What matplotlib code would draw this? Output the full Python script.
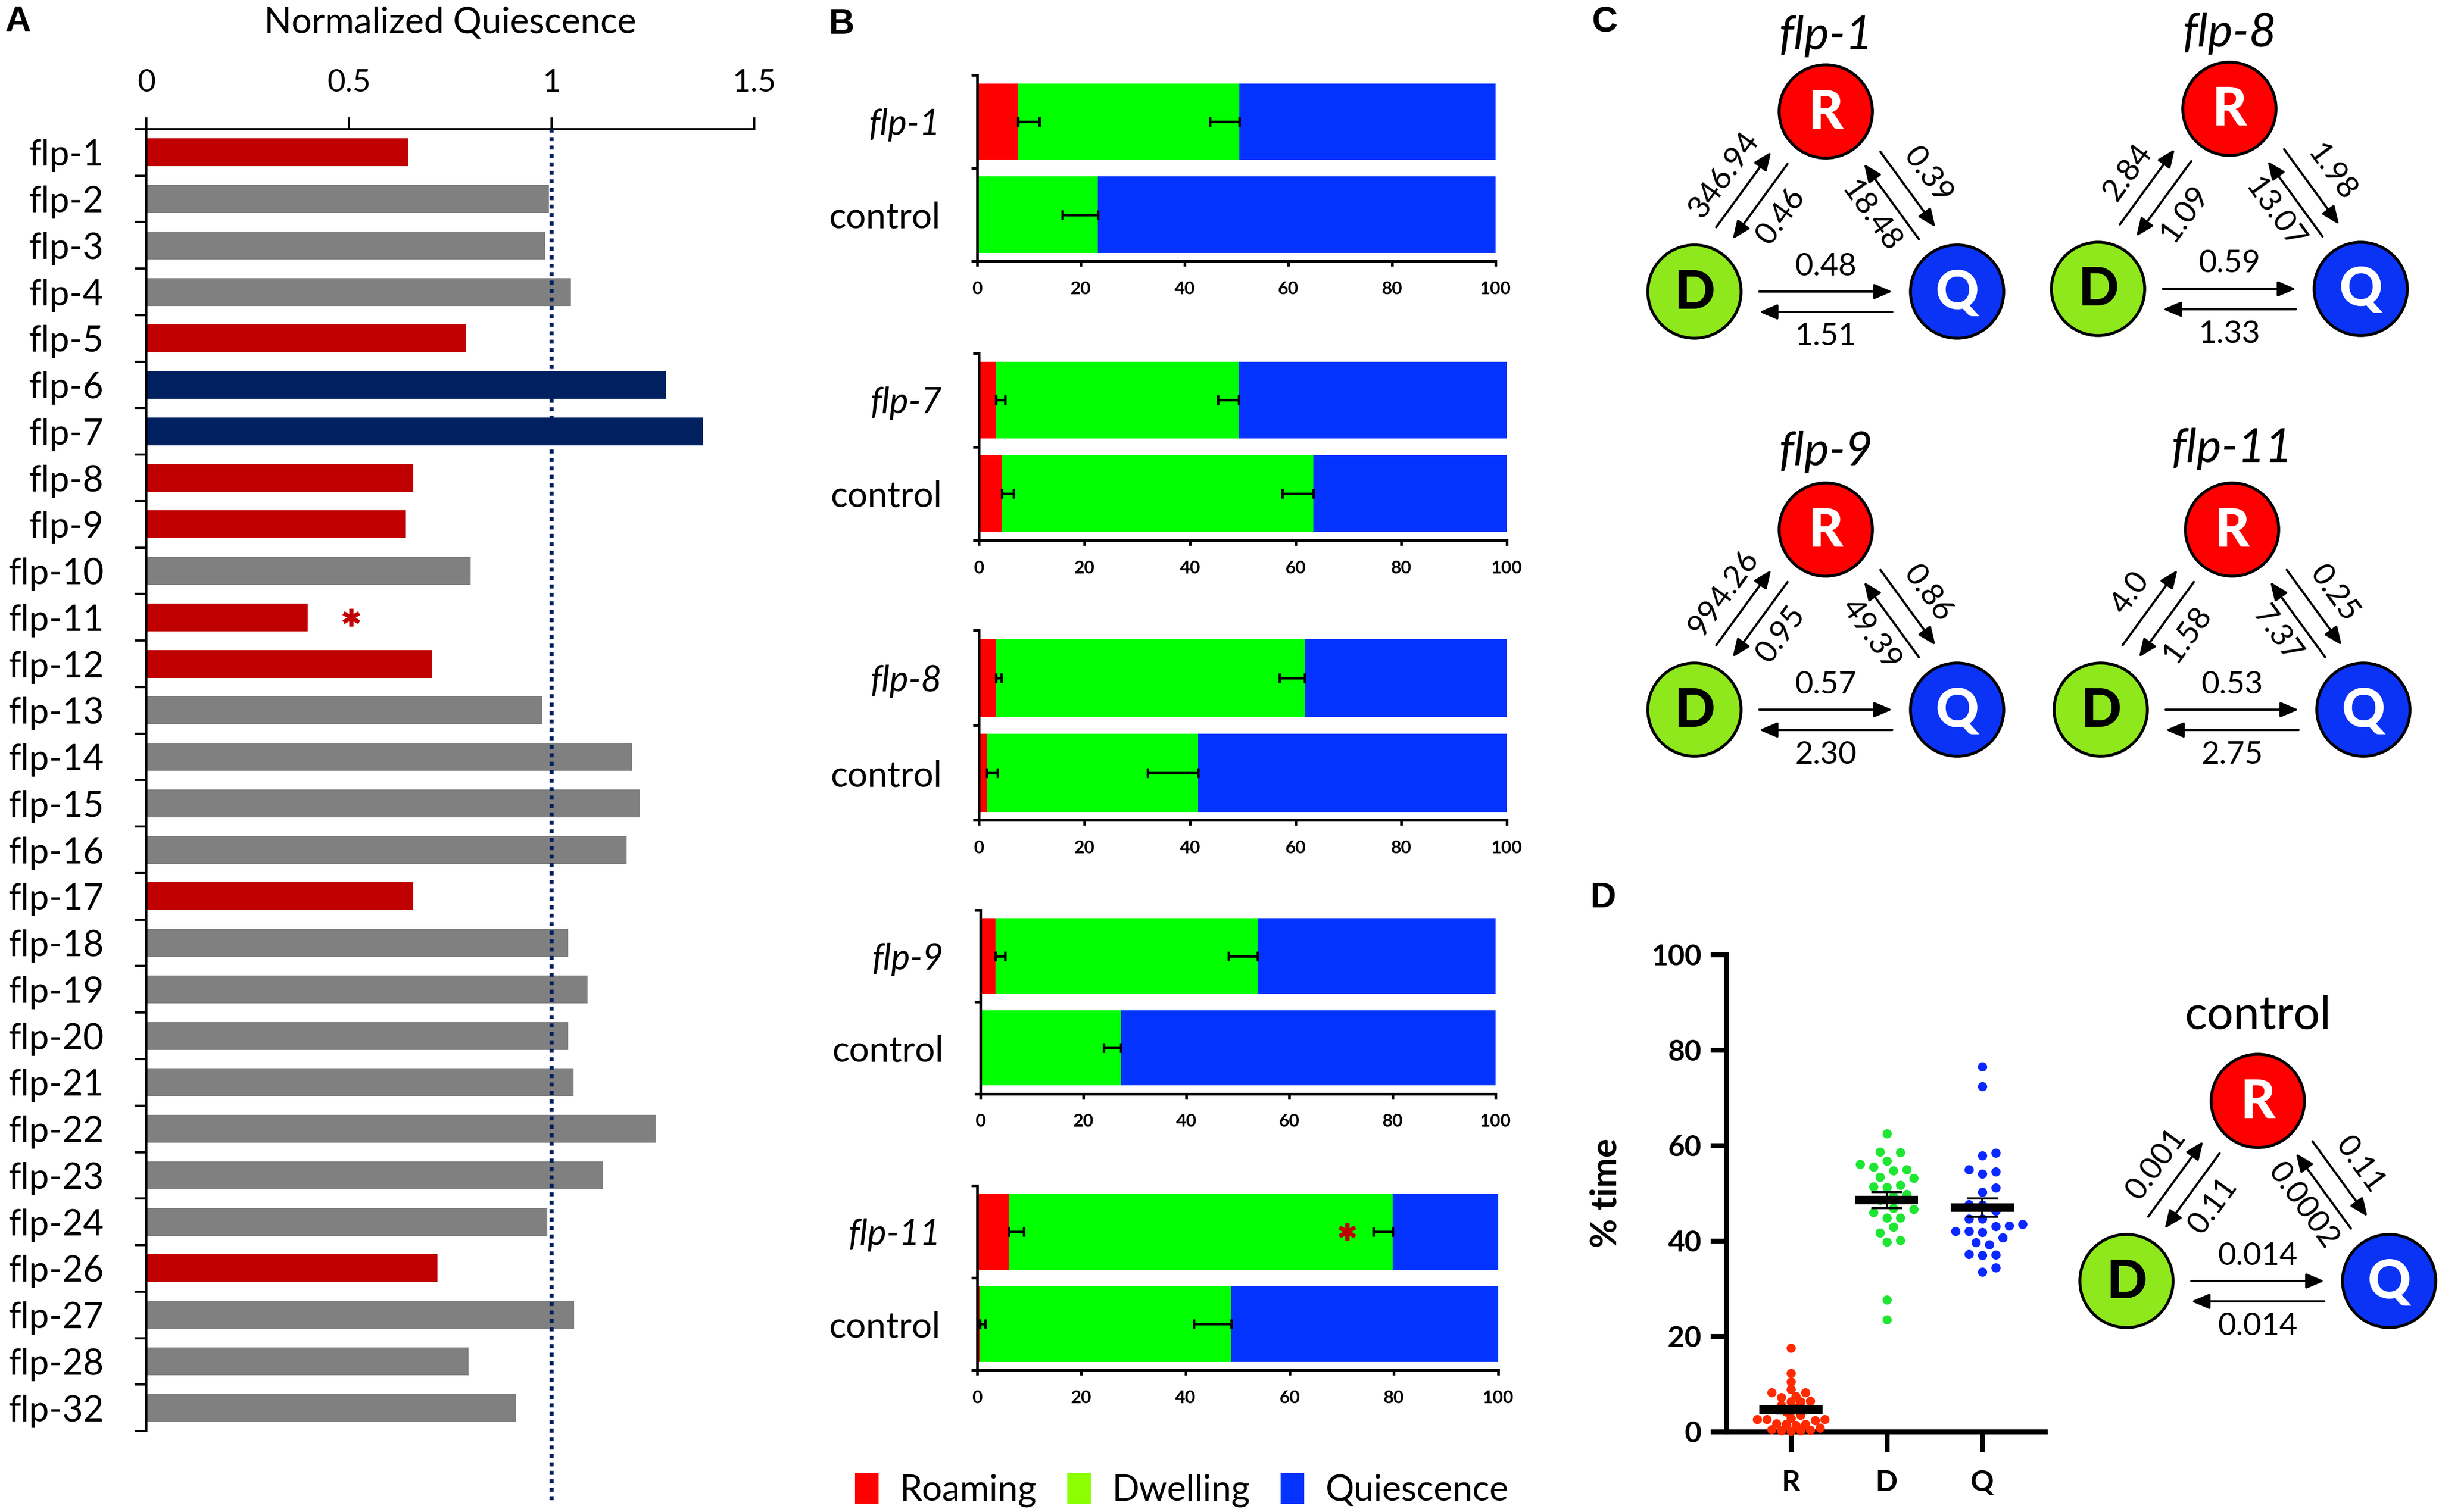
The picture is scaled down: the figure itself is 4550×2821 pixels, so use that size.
import numpy as np
import matplotlib
matplotlib.use('Agg')
import matplotlib.pyplot as plt
from matplotlib.patches import Circle, Patch

plt.rcParams['font.family'] = ['Lato', 'DejaVu Sans']

# ---- panel A data
flp_names = ['flp-1', 'flp-2', 'flp-3', 'flp-4', 'flp-5', 'flp-6', 'flp-7', 'flp-8', 'flp-9',
             'flp-10', 'flp-11', 'flp-12', 'flp-13', 'flp-14', 'flp-15', 'flp-16', 'flp-17',
             'flp-18', 'flp-19', 'flp-20', 'flp-21', 'flp-22', 'flp-23', 'flp-24', 'flp-26',
             'flp-27', 'flp-28', 'flp-32']
norm_quiescence = [0.646, 0.994, 0.984, 1.048, 0.789, 1.282, 1.373, 0.659, 0.639, 0.801,
                   0.399, 0.705, 0.977, 1.199, 1.218, 1.185, 0.659, 1.042, 1.089, 1.042,
                   1.054, 1.257, 1.127, 0.990, 0.718, 1.056, 0.795, 0.913]
bar_group = ['dec', 'ns', 'ns', 'ns', 'dec', 'inc', 'inc', 'dec', 'dec', 'ns', 'dec', 'dec',
             'ns', 'ns', 'ns', 'ns', 'dec', 'ns', 'ns', 'ns', 'ns', 'ns', 'ns', 'ns', 'dec',
             'ns', 'ns', 'ns']
group_colors = {'dec': '#C00000', 'ns': '#808080', 'inc': '#002060'}
star_A = ('flp-11', 0.506)

# ---- panel B data (percent of time)
mutants = ['flp-1', 'flp-7', 'flp-8', 'flp-9', 'flp-11']
roam_mut = [7.9, 3.2, 3.2, 3.0, 6.1]
roam_mut_err = [4.1, 1.8, 1.1, 1.8, 2.9]
dwell_mut = [42.7, 46.0, 58.5, 50.8, 73.7]
dwell_mut_err = [5.7, 3.9, 4.7, 5.6, 3.7]
roam_ctl = [0.0, 4.35, 1.5, 0.3, 0.5]
roam_ctl_err = [0.0, 2.2, 2.1, 0.0, 1.0]
dwell_ctl = [23.3, 59.0, 40.0, 27.0, 48.3]
dwell_ctl_err = [6.9, 5.9, 9.5, 3.3, 7.2]
star_B = ('flp-11', 71.0)

# ---- panel C / D transition rates
net_names = ['flp-1', 'flp-8', 'flp-9', 'flp-11', 'control']
rate_DR = ['346.94', '2.84', '994.26', '4.0', '0.001']
rate_RD = ['0.46', '1.09', '0.95', '1.58', '0.11']
rate_RQ = ['0.39', '1.98', '0.86', '0.25', '0.11']
rate_QR = ['18.48', '13.07', '49.39', '7.37', '0.0002']
rate_DQ = ['0.48', '0.59', '0.57', '0.53', '0.014']
rate_QD = ['1.51', '1.33', '2.30', '2.75', '0.014']

# ---- panel D data (% time, control animals)
pct_R = [17.5, 12.2, 10.5, 8.9, 8.2, 8.2, 7.4, 7.2, 6.4, 6.3, 6.3, 5.5, 5.0, 4.2, 3.5,
         2.6, 2.6, 2.6, 2.4, 2.8, 1.6, 1.6, 1.4, 1.7, 0.3, 0.5, 0.2, 0.2, 0.8, 0.1]
pct_D = [62.5, 58.5, 58.7, 56.7, 56.1, 55.5, 54.7, 55.0, 53.4, 53.1, 51.2, 51.4, 51.7,
         49.8, 48.5, 49.3, 46.6, 46.8, 45.9, 44.8, 44.8, 42.9, 41.7, 40.1, 39.8, 27.6, 23.5]
pct_Q = [76.5, 72.4, 58.4, 57.9, 55.0, 54.5, 54.1, 51.1, 50.2, 47.6, 47.5, 46.3, 44.6,
         44.6, 43.5, 43.1, 43.0, 42.0, 42.0, 41.8, 40.7, 39.7, 39.2, 37.1, 37.2, 37.0,
         34.4, 33.5]

C_ROAM, C_DWELL, C_QUI = '#FF0000', '#00FF00', '#0433FF'
C_DWELL_LEG = '#8CFF00'
C_NODE = {'R': '#FF0000', 'D': '#8FE81C', 'Q': '#0A33F5'}

W, H = 4550, 2821
fig = plt.figure(figsize=(W / 300, H / 300), dpi=300)


def px_axes(left, top, width, height):
    return fig.add_axes([left / W, 1 - (top + height) / H, width / W, height / H])


# ================= A
axA = px_axes(272.7, 241, 1134, 2429)
yA = np.arange(len(flp_names))
axA.barh(yA, norm_quiescence, height=0.6, color=[group_colors[g] for g in bar_group], zorder=2)
axA.set_xlim(0, 1.5)
axA.set_ylim(len(flp_names) - 0.5, -0.5)
axA.xaxis.tick_top()
axA.set_xticks([0, 0.5, 1, 1.5])
axA.set_xticklabels(['0', '0.5', '1', '1.5'])
axA.tick_params(axis='x', direction='out', length=5.3, width=1, pad=9, labelsize=14)
axA.set_yticks(yA)
axA.set_yticklabels(flp_names, fontsize=16)
axA.tick_params(axis='y', which='major', length=0, pad=19)
axA.set_yticks(np.arange(-0.5, len(flp_names)), minor=True)
axA.tick_params(axis='y', which='minor', direction='out', length=5.3, width=1)
for s in ['right', 'bottom']:
    axA.spines[s].set_visible(False)
for s in ['top', 'left']:
    axA.spines[s].set_linewidth(1)
axA.axvline(1.0, ymin=-0.053, ymax=1, color='#002060', ls=(0, (1, 1.1)), lw=1.8,
            clip_on=False, zorder=3)
axA.plot(star_A[1], flp_names.index(star_A[0]), marker=(6, 2, 0), ms=8, mew=1.8,
         color='#C00000')
fig.text(840 / W, 1 - 43 / H, 'Normalized Quiescence', fontsize=16, ha='center', va='center')

# ================= B
B_boxes = [(1823, 2790, 140, 487.5), (1826, 2811, 659, 1008), (1826, 2811, 1176.5, 1530.5),
           (1828.6, 2790, 1698, 2040.7), (1823, 2794.6, 2212, 2556)]
for k, name in enumerate(mutants):
    x0, x1, top, bot = B_boxes[k]
    ax = px_axes(x0, top, x1 - x0, bot - top)
    yy = np.array([0, 1])
    roam = np.array([roam_mut[k], roam_ctl[k]])
    dwell = np.array([dwell_mut[k], dwell_ctl[k]])
    qui = 100 - roam - dwell
    ax.barh(yy, roam, height=0.82, color=C_ROAM)
    ax.barh(yy, dwell, left=roam, height=0.82, color=C_DWELL)
    ax.barh(yy, qui, left=roam + dwell, height=0.82, color=C_QUI)
    r_err = [roam_mut_err[k], roam_ctl_err[k]]
    d_err = [dwell_mut_err[k], dwell_ctl_err[k]]
    for j in range(2):
        if r_err[j] > 0:
            ax.errorbar(roam[j], yy[j], xerr=[[0], [r_err[j]]], fmt='none', ecolor='k',
                        elinewidth=1.1, capsize=2.2, capthick=1.1)
        if d_err[j] > 0:
            ax.errorbar(roam[j] + dwell[j], yy[j], xerr=[[d_err[j]], [0]], fmt='none',
                        ecolor='k', elinewidth=1.1, capsize=2.2, capthick=1.1)
    if name == star_B[0]:
        ax.plot(star_B[1], 0, marker=(6, 2, 0), ms=8, mew=1.8, color='#C00000')
    ax.set_xlim(0, 100)
    ax.set_ylim(1.5, -0.5)
    ax.set_xticks(np.arange(0, 101, 20))
    ax.tick_params(axis='x', direction='out', length=2.5, width=1.2, pad=6.5, labelsize=8)
    for t in ax.get_xticklabels():
        t.set_fontweight('bold')
    ax.set_yticks(yy)
    labs = ax.set_yticklabels([name, 'control'], fontsize=16)
    labs[0].set_style('italic')
    ax.tick_params(axis='y', which='major', length=0, pad=16.5)
    ax.set_yticks([-0.5, 0.5, 1.5], minor=True)
    ax.tick_params(axis='y', which='minor', direction='out', length=2.6, width=1.2)
    for s in ['right', 'top']:
        ax.spines[s].set_visible(False)
    for s in ['left', 'bottom']:
        ax.spines[s].set_linewidth(1.2)

fig.legend(handles=[Patch(fc=C_ROAM, ec='none'), Patch(fc=C_DWELL_LEG, ec='none'),
                    Patch(fc=C_QUI, ec='none')],
           labels=['Roaming', 'Dwelling', 'Quiescence'], loc='center',
           bbox_to_anchor=(2205 / W, 1 - 2780 / H), ncol=3, frameon=False, fontsize=16,
           handlelength=0.66, handleheight=0.96, handletextpad=0.6, columnspacing=0.85,
           borderaxespad=0, borderpad=0)

# ================= D scatter
axD = px_axes(3220, 1781, 595, 890)
groups = [pct_R, pct_D, pct_Q]
gcol = ['#FF2A00', '#1EE632', '#0A28FF']
swarm_gap = [13, 21, 21]  # min point spacing in px (R points overlap heavily)
sx, sy = 178.5, 8.9  # px per data unit


def swarm_offsets(vals, d_px, step_px):
    vals = np.asarray(vals)
    px_x, px_y = [], []
    off = np.zeros(len(vals))
    for i in np.argsort(vals):
        ypx = vals[i] * sy
        k = 0
        found = None
        while found is None:
            cands = [0.0] if k == 0 else [k * step_px, -k * step_px]
            for c in cands:
                if all((c - a) ** 2 + (ypx - b) ** 2 >= d_px ** 2 for a, b in zip(px_x, px_y)):
                    found = c
                    break
            k += 1
        off[i] = found
        px_x.append(found)
        px_y.append(ypx)
    return off / sx


for g, vals in enumerate(groups):
    xc = g + 1
    xs = xc + swarm_offsets(vals, swarm_gap[g], 12.5 if g else 9)
    axD.scatter(xs, vals, s=17, color=gcol[g], lw=0, zorder=3, clip_on=False)
    m = np.mean(vals)
    sem = np.std(vals, ddof=1) / np.sqrt(len(vals))
    axD.hlines(m, xc - 0.33, xc + 0.33, color='k', lw=3.8, zorder=4)
    axD.errorbar(xc, m, yerr=sem, fmt='none', ecolor='k', elinewidth=1, capsize=7,
                 capthick=1, zorder=4)
axD.set_xlim(0.322, 3.655)
axD.set_ylim(0, 100)
axD.set_xticks([1, 2, 3])
axD.set_xticklabels(['R', 'D', 'Q'])
axD.set_yticks(np.arange(0, 101, 20))
axD.tick_params(axis='x', direction='out', length=9, width=2.2, pad=8, labelsize=13)
axD.tick_params(axis='y', direction='out', length=7, width=2.2, pad=4, labelsize=13)
for t in axD.get_xticklabels() + axD.get_yticklabels():
    t.set_fontweight('bold')
for s in ['right', 'top']:
    axD.spines[s].set_visible(False)
for s in ['left', 'bottom']:
    axD.spines[s].set_linewidth(2.2)
axD.set_ylabel('% time', fontsize=16, fontweight='bold', va='center')
axD.yaxis.set_label_coords(-0.376, 0.5)

# ================= C / D network diagrams (pixel coordinates)
ov = fig.add_axes([0, 0, 1, 1])
ov.set_xlim(0, W)
ov.set_ylim(H, 0)
ov.axis('off')
ov.patch.set_alpha(0)

net_centers = [(3406, 208), (4159, 203), (3406, 988), (4164, 988), (4212, 2054)]
title_gap = [116, 116, 120, 126, 135]
RAD = 87
DX, DY = 245, 336


def draw_edge(A, B, cen, out_txt, in_txt, out_to_B):
    A, B = np.array(A, float), np.array(B, float)
    L = np.hypot(*(B - A))
    u = (B - A) / L
    n = np.array([-u[1], u[0]])
    if np.dot(n, (A + B) / 2 - cen) < 0:
        n = -n  # point outward
    t1, t2 = RAD + 34, L - RAD - 34
    for off, fwd in [(38, out_to_B), (0, not out_to_B)]:
        p, q = A + u * t1 + n * off, A + u * t2 + n * off
        s, e = (p, q) if fwd else (q, p)
        ov.annotate('', xy=e, xytext=s,
                    arrowprops=dict(arrowstyle='-|>,head_length=0.4,head_width=0.17',
                                    color='k', lw=1.0, shrinkA=0, shrinkB=0,
                                    mutation_scale=17))
    left, right = (A, B) if A[0] <= B[0] else (B, A)
    ang = np.degrees(np.arctan2(-(right[1] - left[1]), right[0] - left[0]))
    mid = A + u * L / 2
    for off, txt in [(84, out_txt), (-47, in_txt)]:
        pos = mid + n * off
        ov.text(pos[0], pos[1], txt, fontsize=14, rotation=ang, rotation_mode='anchor',
                ha='center', va='center')


for k, name in enumerate(net_names):
    rx, ry = net_centers[k]
    R = (rx, ry)
    D = (rx - DX, ry + DY)
    Q = (rx + DX, ry + DY)
    cen = np.array([rx, ry + 2 * DY / 3])
    draw_edge(D, R, cen, rate_DR[k], rate_RD[k], True)
    draw_edge(R, Q, cen, rate_RQ[k], rate_QR[k], True)
    draw_edge(Q, D, cen, rate_QD[k], rate_DQ[k], True)
    for lab, c in [('R', R), ('D', D), ('Q', Q)]:
        ov.add_patch(Circle(c, RAD, fc=C_NODE[lab], ec='k', lw=1.3, zorder=5))
        ov.text(c[0], c[1] + 3, lab, fontsize=24, fontweight='black', ha='center',
                va='center', color='k' if lab == 'D' else 'white', zorder=6)
    ov.text(rx, ry - title_gap[k], name, fontsize=21, ha='center', va='baseline',
            style='normal' if name == 'control' else 'italic')

# panel letters
for lab, x, y in [('A', 33, 41), ('B', 1570, 46), ('C', 2993, 42), ('D', 2991, 1676)]:
    fig.text(x / W, 1 - y / H, lab, fontsize=16, fontweight='bold', ha='center', va='center',
             family=['Liberation Sans', 'DejaVu Sans'])

fig.savefig('out.png', dpi=300)
